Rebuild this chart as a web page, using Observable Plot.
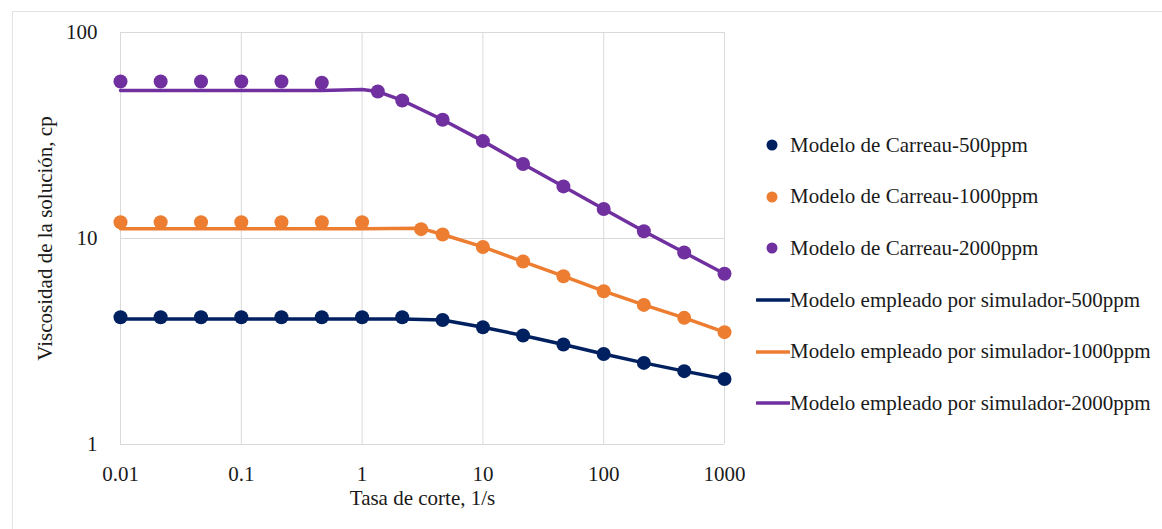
<!DOCTYPE html>
<html><head><meta charset="utf-8">
<script src="https://cdn.jsdelivr.net/npm/d3@7"></script>
<script src="https://cdn.jsdelivr.net/npm/@observablehq/plot@0.6"></script>
<style>
body{margin:0;background:#fff;}
#wrap{position:relative;width:1162px;height:529px;overflow:hidden;font-family:"Liberation Serif","DejaVu Serif","Times New Roman",serif;}
#frame{position:absolute;left:12px;top:11px;width:1200px;height:600px;border-left:1px solid #e3e3e3;border-top:1px solid #e3e3e3;}
#chart{position:absolute;left:0;top:0;}
.item{position:absolute;left:756px;height:24px;display:flex;align-items:center;font-size:21px;color:#1a1a1a;white-space:nowrap;}
.item svg{display:block;}
</style></head><body>
<div id="wrap"><div id="frame"></div><div id="chart"></div><div id="legend"></div></div>
<script>
// ---- data ----
const x500 = [0.01,0.0215,0.0464,0.1,0.215,0.464,1,2.15,4.64,10,21.5,46.4,100,215,464,1000];
const carreau500 = [4.15,4.15,4.15,4.15,4.15,4.15,4.15,4.15,4.02,3.71,3.38,3.06,2.75,2.49,2.27,2.08];
const sim500 = [4.07,4.07,4.07,4.07,4.07,4.07,4.07,4.07,4.02,3.71,3.38,3.06,2.75,2.49,2.27,2.08];

const x1000 = [0.01,0.0215,0.0464,0.1,0.215,0.464,1,3.08,4.64,10,21.5,46.4,100,215,464,1000];
const carreau1000 = [12.0,12.0,12.0,12.0,12.0,12.0,12.0,11.1,10.46,9.1,7.73,6.56,5.55,4.76,4.12,3.51];
const sim1000 = [11.14,11.14,11.14,11.14,11.14,11.14,11.14,11.2,10.46,9.1,7.73,6.56,5.55,4.76,4.12,3.51];

const x2000 = [0.01,0.0215,0.0464,0.1,0.215,0.464,1.35,2.15,4.64,10,21.5,46.4,100,215,464,1000];
const carreau2000 = [57.8,57.8,57.8,57.8,57.8,57.0,51.7,46.8,37.7,29.7,23.0,17.9,13.9,10.85,8.55,6.74];
const xSim2000 = [0.01,0.0215,0.0464,0.1,0.215,0.464,1,1.35,2.15,4.64,10,21.5,46.4,100,215,464,1000];
const sim2000 = [52.3,52.3,52.3,52.3,52.3,52.3,52.9,51.7,46.8,37.7,29.7,23.0,17.9,13.9,10.85,8.55,6.74];

const xTicks = [0.01,0.1,1,10,100,1000];
const xTickLabels = ["0.01","0.1","1","10","100","1000"];
const yTicks = [1,10,100];
const yTickLabels = ["1","10","100"];

const seriesNames = [
  "Modelo de Carreau-500ppm","Modelo de Carreau-1000ppm","Modelo de Carreau-2000ppm",
  "Modelo empleado por simulador-500ppm","Modelo empleado por simulador-1000ppm","Modelo empleado por simulador-2000ppm"
];
const colors = ["#002060","#ED7D31","#7030A0"];
const xTitle = "Tasa de corte, 1/s";
const yTitle = "Viscosidad de la solución, cp";

// ---- tables ----
const toRows = (xs, ys, s) => xs.map((x,i)=>({x, y: ys[i], s}));
const dots = [
  ...toRows(x500, carreau500, 0),
  ...toRows(x1000, carreau1000, 1),
  ...toRows(x2000, carreau2000, 2)
];
const lines = [
  ...toRows(x500, sim500, 0),
  ...toRows(x1000, sim1000, 1),
  ...toRows(xSim2000, sim2000, 2)
];

const font = "'Liberation Serif', 'DejaVu Serif', 'Times New Roman', serif";
const plot = Plot.plot({
  width: 1162, height: 529,
  marginLeft: 120, marginRight: 438, marginTop: 32, marginBottom: 85,
  style: {fontFamily: font, fontSize: "21px", color: "#1a1a1a", background: "transparent"},
  x: {type: "log", domain: [0.01, 1000]},
  y: {type: "log", domain: [1, 100]},
  marks: [
    Plot.gridX(xTicks, {stroke: "#d9d9d9", strokeOpacity: 1, strokeWidth: 1}),
    Plot.gridY(yTicks, {stroke: "#d9d9d9", strokeOpacity: 1, strokeWidth: 1}),
    Plot.axisX({ticks: xTicks, tickSize: 0, tickPadding: 22, tickFormat: d => xTickLabels[xTicks.indexOf(d)], label: null, fontSize: 21}),
    Plot.axisY({ticks: yTicks, tickSize: 0, tickPadding: 23, tickFormat: d => yTickLabels[yTicks.indexOf(d)], label: null, fontSize: 21}),
    Plot.line(lines, {x: "x", y: "y", z: "s", stroke: d => colors[d.s], strokeWidth: 3.5, strokeLinejoin: "round"}),
    Plot.dot(dots, {x: "x", y: "y", r: 7, fill: d => colors[d.s], stroke: "none"}),
    Plot.text([xTitle], {frameAnchor: "bottom", dy: 60, fontSize: 21, fill: "#1a1a1a", textAnchor: "middle"}),
    Plot.text([yTitle], {frameAnchor: "left", dx: -75, rotate: -90, fontSize: 21, fill: "#1a1a1a", textAnchor: "middle", lineAnchor: "middle"})
  ]
});
document.getElementById("chart").appendChild(plot);

// ---- legend ----
const legendY = [145, 196.7, 248.3, 300, 351.7, 403.3];
const leg = document.getElementById("legend");
seriesNames.forEach((name, i) => {
  const c = colors[i % 3];
  const div = document.createElement("div");
  div.className = "item";
  div.style.top = (legendY[i] - 12) + "px";
  const sw = i < 3
    ? `<svg width="34" height="24"><circle cx="16" cy="12" r="5.5" fill="${c}"/></svg>`
    : `<svg width="34" height="24"><line x1="1" x2="33" y1="12" y2="12" stroke="${c}" stroke-width="3.5" stroke-linecap="round"/></svg>`;
  div.innerHTML = sw + `<span>${name}</span>`;
  leg.appendChild(div);
});
</script>
</body></html>
